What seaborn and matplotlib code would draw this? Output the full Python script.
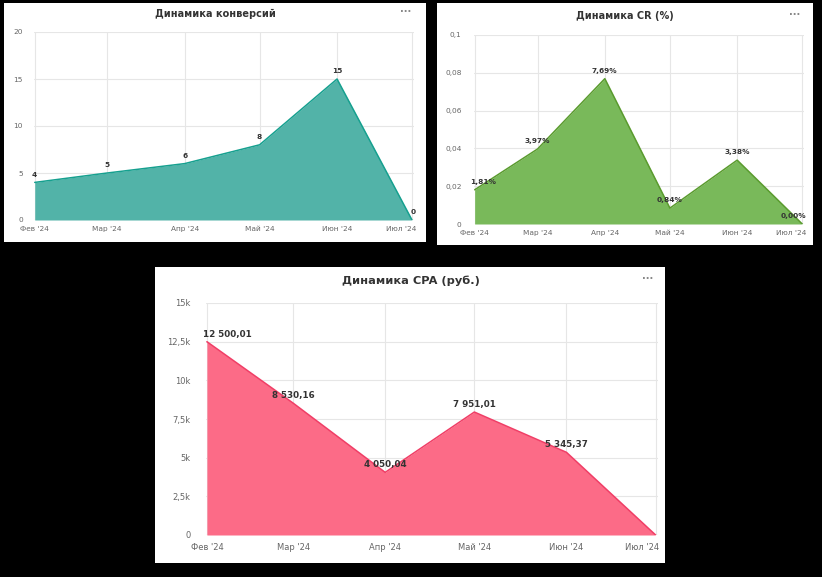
import matplotlib
matplotlib.use('Agg')
import matplotlib.pyplot as plt
import matplotlib.transforms as mtransforms
import numpy as np
import pandas as pd
import seaborn as sns
from matplotlib.patches import Rectangle

# --- data -------------------------------------------------------------
months = ['2024-02-01', '2024-03-01', '2024-04-01', '2024-05-01', '2024-06-01', '2024-07-01']
month_labels = ["Фев '24", "Мар '24", "Апр '24", "Май '24", "Июн '24", "Июл '24"]

conversions = [4, 5, 6, 8, 15, 0]
conversion_labels = ['4', '5', '6', '8', '15', '0']
conv_ticks = [0, 5, 10, 15, 20]
conv_tick_labels = ['0', '5', '10', '15', '20']

cr = [0.0181, 0.0397, 0.0769, 0.0084, 0.0338, 0.0]
cr_labels = ['1,81%', '3,97%', '7,69%', '0,84%', '3,38%', '0,00%']
cr_ticks = [0, 0.02, 0.04, 0.06, 0.08, 0.1]
cr_tick_labels = ['0', '0,02', '0,04', '0,06', '0,08', '0,1']

cpa = [12500.01, 8530.16, 4050.04, 7951.01, 5345.37, 0]
cpa_labels = ['12 500,01', '8 530,16', '4 050,04', '7 951,01', '5 345,37', '']
cpa_ticks = [0, 2500, 5000, 7500, 10000, 12500, 15000]
cpa_tick_labels = ['0', '2,5k', '5k', '7,5k', '10k', '12,5k', '15k']

W, H = 822, 577

sns.set_theme(style='white')
plt.rcParams['font.family'] = ['DejaVu Sans']


def box(x0, y0, x1, y1):
    return [x0 / W, 1 - y1 / H, (x1 - x0) / W, (y1 - y0) / H]


def draw_panel(fig, panel, plot, title, title_xy, dots_xy, values, labels,
               ticks, tick_labels, fill, line, title_size, tick_size, label_size,
               ypad, xpad):
    fig.add_artist(Rectangle((panel[0] / W, 1 - panel[3] / H),
                             (panel[2] - panel[0]) / W, (panel[3] - panel[1]) / H,
                             transform=fig.transFigure, facecolor='white',
                             edgecolor='none', zorder=0))
    fig.text(title_xy[0] / W, 1 - title_xy[1] / H, title, ha='center', va='center',
             fontsize=title_size, fontweight='bold', color='#333333')
    fig.text(dots_xy[0] / W, 1 - dots_xy[1] / H, '···', ha='center', va='center',
             fontsize=7, color='#888888', fontweight='bold')

    ax = fig.add_axes(box(*plot))
    ax.set_facecolor('none')
    df = pd.DataFrame({'date': pd.to_datetime(months), 'value': values})
    ax.fill_between(df['date'], df['value'], 0, color=fill, linewidth=0, zorder=2)
    sns.lineplot(data=df, x='date', y='value', ax=ax, color=line, linewidth=1.1, zorder=3)

    ax.set_xlim(df['date'].iloc[0] - pd.Timedelta(days=0.3),
                df['date'].iloc[-1] + pd.Timedelta(days=0.8))
    ax.set_ylim(ticks[0], ticks[-1])
    ax.set_yticks(ticks)
    ax.set_yticklabels(tick_labels)
    ax.set_xticks(df['date'])
    ax.set_xticklabels(month_labels)
    ax.tick_params(axis='both', length=0, colors='#666666', labelsize=tick_size)
    ax.tick_params(axis='y', pad=ypad)
    ax.tick_params(axis='x', pad=xpad)
    # keep the last month label inside the panel
    last = ax.get_xticklabels()[-1]
    last.set_ha('right')
    last.set_transform(last.get_transform() +
                       mtransforms.ScaledTranslation(4 / 100, 0, fig.dpi_scale_trans))
    ax.grid(True, color='#e6e6e6', linewidth=0.8, zorder=0)
    ax.set_axisbelow(True)
    for s in ax.spines.values():
        s.set_visible(False)
    ax.axhline(0, color='#d8d8d8', linewidth=0.8, zorder=1)
    ax.set_xlabel('')
    ax.set_ylabel('')

    n = len(values)
    for i, (d, v, lab) in enumerate(zip(df['date'], values, labels)):
        if not lab:
            continue
        ha, dx = 'center', 0
        if i == 0 and len(lab) > 2:
            ha, dx = 'left', -3
        if i == n - 1:
            ha, dx = 'right', 3
        ax.annotate(lab, (d, v), xytext=(dx, 5.5), textcoords='offset points',
                    ha=ha, va='center', fontsize=label_size, fontweight='bold',
                    color='#333333', zorder=5, annotation_clip=False)
    return ax


fig = plt.figure(figsize=(W / 100, H / 100), dpi=100)
fig.patch.set_facecolor('black')

draw_panel(fig, (4, 3, 426, 242), (34, 32, 414, 220), 'Динамика конверсий',
           (215, 14), (406, 12), conversions, conversion_labels,
           conv_ticks, conv_tick_labels, '#52b3a8', '#16a08f', 7, 5.3, 5.3, 8, 4.5)

draw_panel(fig, (437, 3, 813, 245), (474, 35, 804, 224), 'Динамика CR (%)',
           (625, 16), (795, 15), cr, cr_labels,
           cr_ticks, cr_tick_labels, '#79b95a', '#5a9b2e', 7, 5.3, 5.3, 9, 4.5)

draw_panel(fig, (155, 267, 665, 563), (206, 303, 658, 535), 'Динамика CPA (руб.)',
           (411, 281), (648, 279), cpa, cpa_labels,
           cpa_ticks, cpa_tick_labels, '#fc6b87', '#f03e66', 8.2, 6, 6.3, 11, 5.5)

fig.savefig('out.png', dpi=100, facecolor='black')
